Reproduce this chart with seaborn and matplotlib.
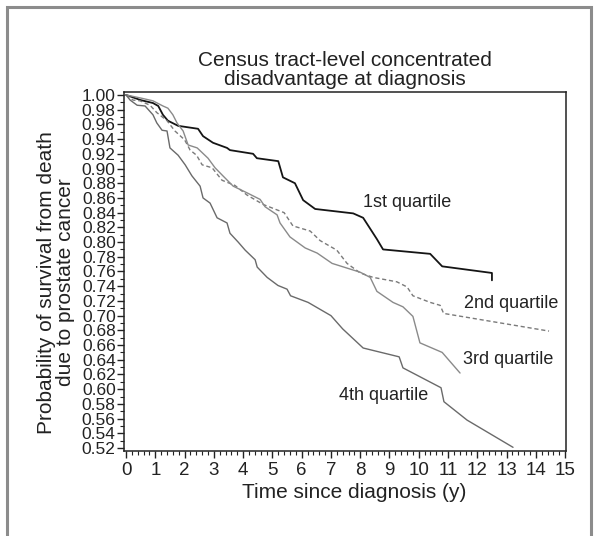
import numpy as np
import pandas as pd
import matplotlib
matplotlib.use("Agg")
import matplotlib.pyplot as plt
import seaborn as sns
from matplotlib.patches import Rectangle
from matplotlib.ticker import MultipleLocator

# survival curves (time in years, survival probability)
q1_t = [0, 0.5, 0.92, 1.1, 1.26, 1.43, 1.78, 2.46, 2.63, 2.97, 3.45, 3.55, 4.34, 4.47,
        5.2, 5.36, 5.77, 6.05, 6.46, 7.76, 8.1, 8.57, 8.78, 10.39, 10.8, 12.5, 12.5]
q1_s = [1.0, 0.993, 0.989, 0.985, 0.973, 0.965, 0.958, 0.954, 0.944, 0.935, 0.928, 0.925, 0.920, 0.914,
        0.910, 0.888, 0.880, 0.857, 0.845, 0.839, 0.833, 0.804, 0.790, 0.784, 0.767, 0.758, 0.748]

q2_t = [0, 0.24, 0.48, 0.82, 1.05, 1.4, 1.67, 2.0, 2.19, 2.41, 2.6, 2.94, 3.28, 3.72, 4.13,
        4.69, 5.4, 5.7, 6.29, 6.63, 7.2, 7.55, 8.0, 8.44, 9.25, 9.6, 9.8, 10.39, 10.73, 10.85, 14.45]
q2_s = [1.0, 0.993, 0.992, 0.986, 0.976, 0.965, 0.951, 0.939, 0.925, 0.918, 0.905, 0.901, 0.884, 0.877, 0.864,
        0.851, 0.840, 0.822, 0.815, 0.802, 0.789, 0.771, 0.758, 0.752, 0.746, 0.739, 0.727, 0.718, 0.714, 0.703, 0.679]

q3_t = [0, 0.48, 0.92, 1.26, 1.43, 1.6, 1.74, 1.95, 2.12, 2.43, 2.8, 3.04, 3.31, 3.66, 4.13, 4.58,
        4.75, 5.16, 5.26, 5.6, 6.12, 6.53, 7.04, 8.0, 8.34, 8.57, 9.12, 9.46, 9.8, 10.04, 10.8, 11.41]
q3_s = [1.0, 0.996, 0.992, 0.985, 0.982, 0.973, 0.962, 0.951, 0.932, 0.928, 0.914, 0.901, 0.890, 0.876, 0.867, 0.858,
        0.848, 0.837, 0.826, 0.807, 0.792, 0.785, 0.771, 0.759, 0.752, 0.733, 0.718, 0.712, 0.699, 0.663, 0.650, 0.622]

q4_t = [0, 0.14, 0.38, 0.65, 0.92, 1.05, 1.23, 1.4, 1.5, 1.78, 2.02, 2.25, 2.53, 2.63, 2.87, 3.11,
        3.45, 3.55, 3.83, 4.07, 4.41, 4.48, 4.82, 5.19, 5.5, 5.62, 6.22, 7.0, 7.4, 8.1, 9.33, 9.46,
        10.76, 10.86, 11.65, 13.22]
q4_s = [1.0, 0.993, 0.986, 0.985, 0.973, 0.962, 0.952, 0.951, 0.928, 0.918, 0.905, 0.890, 0.876, 0.860, 0.853, 0.833,
        0.826, 0.812, 0.800, 0.789, 0.776, 0.766, 0.752, 0.741, 0.736, 0.727, 0.718, 0.700, 0.682, 0.656, 0.644, 0.629,
        0.602, 0.583, 0.558, 0.521]

labels = ["1st quartile", "2nd quartile", "3rd quartile", "4th quartile"]
label_pos = [(9.6, 0.854), (13.15, 0.717), (13.05, 0.641), (8.81, 0.592)]

sns.set_style("ticks")
plt.rcParams["font.family"] = ["Liberation Sans", "DejaVu Sans"]

fig = plt.figure(figsize=(6, 5.36), dpi=100)
ax = fig.add_axes([124 / 600, 1 - 451 / 536, 442 / 600, 359 / 536])

curves = [(q1_t, q1_s, "#151515", "-", 1.3),
          (q2_t, q2_s, "#7a7a7a", (0, (3, 2)), 1.0),
          (q3_t, q3_s, "#8a8a8a", "-", 1.0),
          (q4_t, q4_s, "#6a6a6a", "-", 1.0)]
for t, s, col, ls, lw in curves:
    sns.lineplot(x=t, y=s, ax=ax, color=col, linestyle=ls, linewidth=lw,
                 estimator=None, sort=False)

for lab, (x, y) in zip(labels, label_pos):
    ax.text(x, y, lab, ha="center", va="center", fontsize=13, color="#222222")

ax.set_xlim(-0.07, 15.03)
ax.set_ylim(0.516, 1.004)
ax.set_xticks(range(0, 16))
ax.set_yticks(np.arange(0.52, 1.001, 0.02))
ax.set_yticklabels([f"{v:.2f}" for v in np.arange(0.52, 1.001, 0.02)])
ax.xaxis.set_minor_locator(MultipleLocator(0.2))
ax.yaxis.set_minor_locator(MultipleLocator(0.01))
ax.tick_params(axis="x", which="major", labelsize=13.5, length=5, width=1, pad=3, colors="#222222")
ax.tick_params(axis="y", which="major", labelsize=12.5, length=5, width=1, pad=1, colors="#222222")
ax.tick_params(which="minor", length=3, width=0.8, color="#222222")
for sp in ax.spines.values():
    sp.set_visible(True)
    sp.set_linewidth(1.1)
    sp.set_color("#222222")

ax.set_title("Census tract-level concentrated\ndisadvantage at diagnosis",
             fontsize=15, pad=5, linespacing=1.0, color="#222222")
ax.set_xlabel("Time since diagnosis (y)", fontsize=15, color="#222222")
ax.xaxis.set_label_coords(0.52, -0.09)
ax.set_ylabel("Probability of survival from death\ndue to prostate cancer",
              fontsize=15, linespacing=1.0, color="#222222")
ax.yaxis.set_label_coords(-0.11, 0.47)

fig.add_artist(Rectangle((7 / 600, -0.1), 584 / 600, 1.1 - 7 / 536,
                         transform=fig.transFigure, fill=False,
                         edgecolor="#8c8c8c", linewidth=2.2, clip_on=False))

fig.savefig("out.png", dpi=100)
